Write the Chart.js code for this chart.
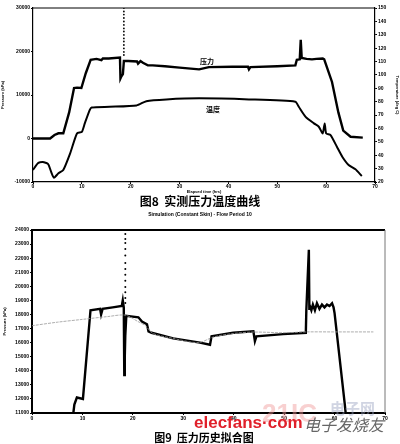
<!DOCTYPE html>
<html>
<head>
<meta charset="utf-8">
<script src="https://cdn.jsdelivr.net/npm/chart.js@4.4.0/dist/chart.umd.min.js"></script>
<style>
  body { margin: 0; background: #fff; }
  #wrap { position: relative; width: 400px; height: 444px; overflow: hidden; background: #fff; }
  canvas { position: absolute; left: 0; }
  .t { position: absolute; white-space: nowrap; color: #000; }
</style>
</head>
<body>
<div id="wrap">
  <canvas id="fig8" width="400" height="194" style="top:0"></canvas>
  <canvas id="fig9" width="400" height="207" style="top:218px"></canvas>

  <div class="t" style="left:200px;top:56px;font:bold 7px 'Noto Sans CJK SC'">压力</div>
  <div class="t" style="left:206px;top:104px;font:bold 7px 'Noto Sans CJK SC'">温度</div>
  <div class="t" style="left:0;width:400px;text-align:center;top:192px;font:bold 12px 'Noto Sans CJK SC'">图8&nbsp;&nbsp;实测压力温度曲线</div>
  <div class="t" style="left:0;width:400px;text-align:center;top:211px;font:bold 5px 'Liberation Sans'">Simulation (Constant Skin) - Flow Period 10</div>

  <!-- watermark -->
  <div class="t" style="left:262px;top:398px;font:bold 26px 'Liberation Sans';color:rgba(240,150,150,0.45)">21IC</div>
  <div class="t" style="left:330px;top:397px;font:bold 15px 'Noto Sans CJK SC';color:rgba(150,160,190,0.45)">电子网</div>
  <div class="t" style="left:194px;top:413px;font:bold 17px 'Liberation Sans';color:#e0202a">elecfans·com</div>
  <div class="t" style="left:304px;top:412px;font:italic 16px 'Noto Sans CJK SC';color:#666">电子发烧友</div>
  <div class="t" style="left:0;width:400px;text-align:center;padding-left:8px;box-sizing:border-box;top:429px;font:bold 11px 'Noto Sans CJK SC'">图9&nbsp;&nbsp;压力历史拟合图</div>
</div>
<script>
// Fig 8 - measured pressure (kPa) vs elapsed time (hrs)
const presTime = [0, 3.5, 4.4, 5.2, 6.2, 7.4, 8.4, 9.0, 9.9, 10.8, 11.8, 13.0, 14.0, 14.3, 15.5, 17.8, 17.9, 18.1, 18.4, 18.6, 19.5, 21.3, 21.5, 22.0, 22.5, 23.5, 24.5, 27.0, 30.0, 34.0, 36.0, 40.8, 44.0, 44.2, 44.5, 50.0, 53.7, 54.0, 54.6, 54.8, 55.0, 56.0, 57.1, 58.0, 59.3, 59.6, 61.2, 62.5, 63.5, 65.0, 67.5];
const presVal  = [0, 0, 800, 1200, 1200, 6000, 11600, 11700, 11600, 15000, 18100, 18300, 18000, 18400, 18400, 18600, 13800, 14300, 14800, 17800, 17800, 17700, 17200, 17800, 17400, 16800, 16800, 16600, 16300, 15900, 16400, 16500, 16500, 15900, 16400, 16600, 16800, 18100, 18200, 22700, 18500, 18300, 18200, 18300, 18400, 18200, 13000, 6000, 1800, 400, 200];

// Fig 8 - measured temperature (deg C)
const tempTime = [0, 1.0, 2.0, 3.1, 3.7, 4.3, 5.2, 6.2, 7.6, 9.0, 10.0, 10.6, 11.6, 12.0, 15.7, 21.2, 23.2, 27.3, 34.0, 44.2, 53.7, 54.4, 55.8, 57.5, 58.5, 59.3, 59.7, 60.0, 60.9, 62.2, 63.3, 64.6, 66.0, 67.3];
const tempVal  = [29, 34, 35, 33.4, 27.7, 23.2, 26.5, 29, 41.4, 56.3, 57.5, 63.8, 73.7, 75.7, 76.2, 77.2, 80.4, 81.7, 82.5, 81.7, 80, 76.2, 68.7, 63.8, 61.3, 56.3, 63.8, 56.3, 55, 46.3, 38.9, 32.7, 29.5, 24.5];

// Fig 8 - gauge dots at the 18.6 hr event
const spike8Time = [18.6, 18.6, 18.6, 18.6, 18.6, 18.6, 18.6, 18.6, 18.6, 18.6, 18.6, 18.6, 18.6, 18.6, 18.6];
const spike8Val  = [30000, 29200, 28500, 27700, 26900, 26100, 25300, 24600, 23800, 23000, 22300, 21500, 20700, 19900, 19200];

// Fig 9 - measured pressure history (kPa)
const histTime = [8.2, 8.4, 8.9, 10.1, 11.6, 13.5, 13.7, 14.0, 16.0, 17.8, 18.0, 18.2, 18.3, 18.4, 18.5, 18.7, 21.1, 21.8, 22.8, 23.1, 23.7, 28.0, 33.3, 35.3, 35.6, 39.9, 43.9, 44.2, 44.5, 49.8, 54.3, 54.4, 54.9, 55.0, 55.1, 55.4, 55.7, 56.1, 56.5, 57.0, 57.5, 58.0, 58.5, 59.0, 59.5, 59.8, 60.0, 62.0, 62.2];
const histVal  = [11000, 11600, 12100, 12000, 18300, 18400, 18000, 18400, 18500, 18600, 19000, 18500, 13700, 15000, 16500, 17900, 17800, 17500, 17300, 16800, 16700, 16300, 16000, 15850, 16450, 16700, 16800, 16100, 16450, 16600, 16700, 18300, 22600, 18400, 18600, 18300, 18700, 18300, 18800, 18400, 18700, 18500, 18700, 18600, 18800, 18500, 18100, 11700, 11000];

// Fig 9 - simulated (constant skin) curve
const simTime = [0, 5, 10, 15, 18.5, 21.0, 22.5, 24.0, 28.0, 33.0, 36.0, 40.0, 44.0, 50.0, 54.3, 60.0, 67.7];
const simVal  = [17200, 17450, 17650, 17850, 17950, 17500, 17200, 16650, 16300, 16000, 16400, 16650, 16750, 16700, 16760, 16760, 16760];

// Fig 9 - gauge dots at the 18.5 hr event
const spike9Time = [18.5, 18.5, 18.5, 18.5, 18.5, 18.5, 18.5, 18.5, 18.5, 18.5, 18.5, 18.5, 18.5];
const spike9Val  = [23710, 23360, 23070, 22650, 22190, 21650, 21230, 20820, 20400, 19950, 19570, 19170, 18820];

const xy = (xs, ys) => xs.map((x, i) => ({ x: x, y: ys[i] }));

const tickFont = { family: "Liberation Sans", size: 5, weight: "bold" };
const titleFont = { family: "Liberation Sans", size: 4, weight: "bold" };
const plain = v => String(v); // no thousands separators, as in the scan

// draws the closing lines of the plot box
const framePlugin = {
  id: "frame",
  afterDraw(chart, args, opts) {
    const a = chart.chartArea, c = chart.ctx;
    c.save();
    c.strokeStyle = "#000";
    c.lineWidth = opts.top || 1;
    c.beginPath();
    c.moveTo(a.left, a.top);
    c.lineTo(a.right, a.top);
    c.stroke();
    if (opts.right) {
      c.lineWidth = opts.right;
      c.strokeStyle = "#777";
      c.beginPath();
      c.moveTo(a.right, a.top);
      c.lineTo(a.right, a.bottom);
      c.stroke();
    }
    c.restore();
  }
};

const axisBase = (extra) => Object.assign({
  type: "linear",
  grid: { drawOnChartArea: false, drawTicks: true, tickLength: 2, color: "#000" },
  border: { color: "#000", width: 1.2 }
}, extra);

new Chart(document.getElementById("fig8"), {
  type: "line",
  data: {
    datasets: [
      { data: xy(presTime, presVal), yAxisID: "y", borderColor: "#000", borderWidth: 2.4, pointRadius: 0, tension: 0 },
      { data: xy(tempTime, tempVal), yAxisID: "y1", borderColor: "#000", borderWidth: 2, pointRadius: 0, tension: 0.2 },
      { data: xy(spike8Time, spike8Val), yAxisID: "y", showLine: false, pointRadius: 0.9, pointBackgroundColor: "#000", pointBorderWidth: 0 }
    ]
  },
  options: {
    responsive: false,
    animation: false,
    layout: { padding: { top: 8, left: 0, right: 0, bottom: 0 } },
    plugins: { legend: { display: false }, tooltip: { enabled: false }, frame: { top: 1 } },
    scales: {
      x: axisBase({
        min: 0, max: 70,
        ticks: { font: tickFont, color: "#000", padding: 0, stepSize: 10, maxRotation: 0, callback: plain },
        title: { display: true, text: "Elapsed time (hrs)", font: titleFont, color: "#000", padding: 0 },
        afterFit: s => { s.height = 12; }
      }),
      y: axisBase({
        position: "left", min: -10000, max: 30000,
        ticks: { font: tickFont, color: "#000", padding: 1, stepSize: 10000, callback: plain },
        title: { display: true, text: "Pressure (kPa)", font: titleFont, color: "#000", padding: 0 },
        afterFit: s => { s.width = 33; }
      }),
      y1: axisBase({
        position: "right", min: 20, max: 150,
        ticks: { font: tickFont, color: "#000", padding: 1, stepSize: 10, callback: plain },
        title: { display: true, text: "Temperature (deg C)", font: titleFont, color: "#000", padding: 0 },
        afterFit: s => { s.width = 25; }
      })
    }
  },
  plugins: [framePlugin]
});

new Chart(document.getElementById("fig9"), {
  type: "line",
  data: {
    datasets: [
      { data: xy(simTime, simVal), borderColor: "#999", borderWidth: 0.8, borderDash: [3, 1], pointRadius: 0, tension: 0.3 },
      { data: xy(histTime, histVal), borderColor: "#000", borderWidth: 2.4, pointRadius: 0, tension: 0 },
      { data: xy(spike9Time, spike9Val), showLine: false, pointRadius: 1, pointBackgroundColor: "#000", pointBorderWidth: 0 }
    ]
  },
  options: {
    responsive: false,
    animation: false,
    layout: { padding: { top: 12, left: 0, right: 15, bottom: 0 } },
    plugins: { legend: { display: false }, tooltip: { enabled: false }, frame: { top: 2, right: 1 } },
    scales: {
      x: axisBase({
        min: 0, max: 70,
        ticks: { font: tickFont, color: "#000", padding: 1, stepSize: 10, maxRotation: 0, callback: plain },
        border: { color: "#000", width: 2 },
        afterFit: s => { s.height = 12; }
      }),
      y: axisBase({
        position: "left", min: 11000, max: 24000,
        ticks: { font: tickFont, color: "#000", padding: 1, stepSize: 1000, callback: plain },
        border: { color: "#000", width: 2 },
        title: { display: true, text: "Pressure (kPa)", font: titleFont, color: "#000", padding: 2 },
        afterFit: s => { s.width = 32; }
      })
    }
  },
  plugins: [framePlugin]
});
</script>
</body>
</html>
